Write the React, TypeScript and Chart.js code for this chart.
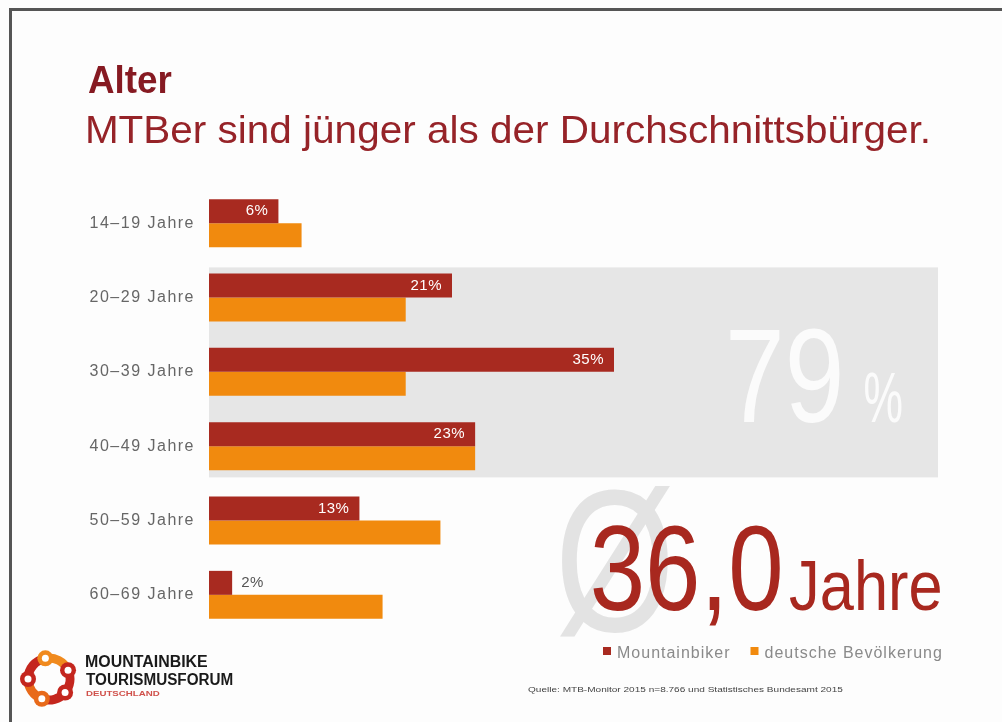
import React, { useEffect, useRef } from 'react';
import { Chart, registerables } from 'chart.js';

Chart.register(...registerables);

// ---- data ----
const categories = ['14–19 Jahre', '20–29 Jahre', '30–39 Jahre', '40–49 Jahre', '50–59 Jahre', '60–69 Jahre'];
const mountainbiker = [6, 21, 35, 23, 13, 2];
const bevoelkerung = [8, 17, 17, 23, 20, 15];
const seriesLabels = ['Mountainbiker', 'deutsche Bevölkerung'];
const highlightRange = [1, 3]; // categories 20–49
const highlightShare = '79';
const averageAge = '36,0';
const averageUnit = 'Jahre';
const titleLines = ['Alter', 'MTBer sind jünger als der Durchschnittsbürger.'];
const sourceText = 'Quelle: MTB-Monitor 2015 n=8.766 und Statistisches Bundesamt 2015';
const logoLines = ['MOUNTAINBIKE', 'TOURISMUSFORUM', 'DEUTSCHLAND'];

const RED = '#a82a20';
const ORANGE = '#f18a0e';
const SANS = "'Liberation Sans', 'DejaVu Sans', sans-serif";

// draw text so that its ink starts at `left`, sits on `baseline` and is `inkWidth` wide
function drawFit(ctx: CanvasRenderingContext2D, text: string, left: number, baseline: number, inkWidth: number, font: string) {
  ctx.save();
  ctx.font = font;
  ctx.textAlign = 'left';
  ctx.textBaseline = 'alphabetic';
  const m = ctx.measureText(text);
  const natural = m.actualBoundingBoxLeft + m.actualBoundingBoxRight;
  const s = inkWidth / natural;
  ctx.translate(left, baseline);
  ctx.scale(s, 1);
  ctx.fillText(text, m.actualBoundingBoxLeft, 0);
  ctx.restore();
}

// draw text so that its ink fills the box (x0,y0)-(x1,y1)
function drawBox(ctx: CanvasRenderingContext2D, text: string, x0: number, y0: number, x1: number, y1: number, font: string) {
  ctx.save();
  ctx.font = font;
  ctx.textAlign = 'left';
  ctx.textBaseline = 'alphabetic';
  const m = ctx.measureText(text);
  const w = m.actualBoundingBoxLeft + m.actualBoundingBoxRight;
  const h = m.actualBoundingBoxAscent + m.actualBoundingBoxDescent;
  const sx = (x1 - x0) / w;
  const sy = (y1 - y0) / h;
  ctx.translate(x0, y0);
  ctx.scale(sx, sy);
  ctx.fillText(text, m.actualBoundingBoxLeft, m.actualBoundingBoxAscent);
  ctx.restore();
}

const decorPlugin = {
  id: 'decor',
  beforeDraw(chart: any) {
    const ctx = chart.ctx;
    ctx.save();
    ctx.fillStyle = '#fdfdfd';
    ctx.fillRect(0, 0, chart.width, chart.height);
    ctx.strokeStyle = '#555555';
    ctx.lineWidth = 3;
    ctx.beginPath();
    ctx.moveTo(10.5, chart.height + 2);
    ctx.lineTo(10.5, 9.5);
    ctx.lineTo(chart.width + 2, 9.5);
    ctx.stroke();
    ctx.restore();
    ctx.letterSpacing = '1.5px';
  },
  beforeDatasetsDraw(chart: any) {
    const ctx = chart.ctx;
    const y = chart.scales.y;
    const area = chart.chartArea;
    const step = y.getPixelForValue(1) - y.getPixelForValue(0);
    const top = y.getPixelForValue(highlightRange[0]) - 0.405 * step;
    const bottom = y.getPixelForValue(highlightRange[1]) + 0.42 * step;
    ctx.save();
    ctx.letterSpacing = '0px';
    ctx.fillStyle = '#e6e6e6';
    ctx.fillRect(area.left, top, area.right - area.left, bottom - top);
    ctx.fillStyle = '#fbfbfb';
    drawBox(ctx, highlightShare, 730, 328, 840, 423, `130px ${SANS}`);
    drawBox(ctx, '%', 865, 372, 902, 423, `60px ${SANS}`);
    ctx.restore();
  },
  afterDatasetsDraw(chart: any) {
    const ctx = chart.ctx;
    const meta = chart.getDatasetMeta(0);
    const values = chart.data.datasets[0].data;
    ctx.save();
    ctx.letterSpacing = '0.5px';
    ctx.font = `15px ${SANS}`;
    ctx.textBaseline = 'middle';
    meta.data.forEach((el: any, i: number) => {
      const v = values[i];
      const label = `${v}%`;
      if (v >= 5) {
        ctx.fillStyle = '#ffffff';
        ctx.textAlign = 'right';
        ctx.fillText(label, el.x - 10, el.y);
      } else {
        ctx.fillStyle = '#555555';
        ctx.textAlign = 'left';
        ctx.fillText(label, el.x + 9, el.y);
      }
    });
    ctx.restore();
  },
  afterDraw(chart: any) {
    const ctx = chart.ctx;
    ctx.save();
    ctx.letterSpacing = '0px';
    ctx.textAlign = 'left';
    ctx.textBaseline = 'alphabetic';
    // title
    ctx.fillStyle = '#861a22';
    drawFit(ctx, titleLines[0], 88, 93, 84, `bold 38px ${SANS}`);
    ctx.fillStyle = '#962328';
    drawFit(ctx, titleLines[1], 88, 143, 840, `39px ${SANS}`);

    // average symbol + value
    ctx.fillStyle = '#e3e3e3';
    drawBox(ctx, 'Ø', 560, 487, 670, 637, `180px ${SANS}`);
    ctx.fillStyle = '#a8281f';
    drawFit(ctx, averageAge, 593, 610, 187, `121px ${SANS}`);
    drawFit(ctx, averageUnit, 790, 610, 150, `70px ${SANS}`);

    // legend
    ctx.font = `16px ${SANS}`;
    ctx.letterSpacing = '1px';
    let lx = 603;
    chart.data.datasets.forEach((ds: any) => {
      ctx.fillStyle = ds.backgroundColor;
      ctx.fillRect(lx, 647, 8, 8);
      ctx.fillStyle = '#8a8a8a';
      ctx.fillText(ds.label, lx + 14, 658);
      lx += 14 + ctx.measureText(ds.label).width + 20;
    });
    ctx.letterSpacing = '0px';

    // source
    ctx.fillStyle = '#444444';
    drawFit(ctx, sourceText, 528, 692, 315, `7px ${SANS}`);

    // logo
    const cx = 49, cy = 679, r = 21;
    const colors = ['#f08a1e', '#c4261e', '#c4261e', '#e86a1a', '#c4261e'];
    const angles = [-100, -25, 40, 110, 180];
    ctx.lineWidth = 9;
    for (let i = 0; i < 5; i++) {
      const a0 = (angles[i] * Math.PI) / 180;
      const a1 = (angles[(i + 1) % 5] * Math.PI) / 180 + (i === 4 ? 2 * Math.PI : 0);
      ctx.strokeStyle = colors[i];
      ctx.beginPath();
      ctx.arc(cx, cy, r, a0, a1);
      ctx.stroke();
    }
    angles.forEach((deg, i) => {
      const a = (deg * Math.PI) / 180;
      const px = cx + r * Math.cos(a);
      const py = cy + r * Math.sin(a);
      ctx.fillStyle = colors[i];
      ctx.beginPath();
      ctx.arc(px, py, 8, 0, 2 * Math.PI);
      ctx.fill();
      ctx.fillStyle = '#ffffff';
      ctx.beginPath();
      ctx.arc(px, py, 3.5, 0, 2 * Math.PI);
      ctx.fill();
    });
    ctx.fillStyle = '#1a1a1a';
    drawFit(ctx, logoLines[0], 86, 667, 122, `bold 16px ${SANS}`);
    drawFit(ctx, logoLines[1], 86, 685, 147, `bold 16px ${SANS}`);
    ctx.fillStyle = '#d0504a';
    drawFit(ctx, logoLines[2], 86, 696, 74, `bold 8px ${SANS}`);
    ctx.restore();
  },
};

export default function App() {
  const ref = useRef<HTMLCanvasElement | null>(null);
  useEffect(() => {
    document.body.style.margin = '0';
    const canvas = ref.current;
    if (!canvas) return;
    const chart = new Chart(canvas, {
      type: 'bar',
      data: {
        labels: categories,
        datasets: [
          { label: seriesLabels[0], data: mountainbiker, backgroundColor: RED, borderWidth: 0 },
          { label: seriesLabels[1], data: bevoelkerung, backgroundColor: ORANGE, borderWidth: 0 },
        ],
      },
      options: {
        indexAxis: 'y',
        responsive: false,
        animation: false,
        devicePixelRatio: 1,
        layout: { padding: { left: 0, right: 64, top: 186, bottom: 90 } },
        datasets: { bar: { categoryPercentage: 0.645, barPercentage: 1 } },
        scales: {
          x: { display: false, min: 0, max: 63 },
          y: {
            grid: { display: false, drawTicks: false },
            border: { display: false },
            ticks: { color: '#666666', font: { family: SANS, size: 16 }, padding: 14 },
            afterFit: (s: any) => {
              s.width = 209;
            },
          },
        },
        plugins: { legend: { display: false }, tooltip: { enabled: false } },
      },
      plugins: [decorPlugin],
    } as any);
    return () => chart.destroy();
  }, []);
  return (
    <div style={{ position: 'fixed', left: 0, top: 0, width: 1002, height: 722 }}>
      <canvas ref={ref} width={1002} height={722} style={{ display: 'block', width: 1002, height: 722 }} />
    </div>
  );
}
